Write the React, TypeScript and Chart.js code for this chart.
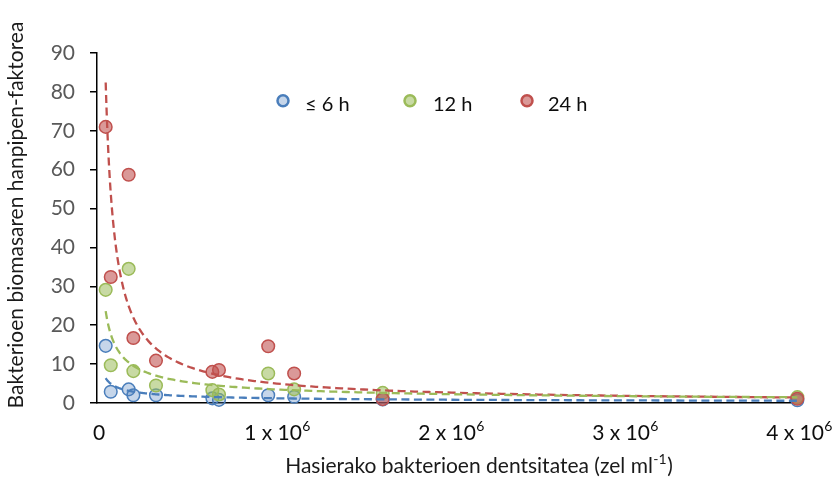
import { useEffect, useRef } from 'react';
import { Chart, registerables } from 'chart.js';

Chart.register(...registerables);

// Initial bacterial density (cells per ml) shared by all three incubation times
const densities = [50000, 79000, 182000, 209000, 339000, 663000, 701000, 984000, 1133000, 1642000, 4025000];
// Minimum bacterial biomass factor for each incubation time
const factor6h = [14.7, 2.9, 3.5, 2.0, 2.0, 1.2, 0.8, 2.0, 1.6, 0.9, 0.7];
const factor12h = [29.1, 9.7, 34.5, 8.2, 4.5, 3.3, 2.2, 7.6, 3.5, 2.6, 1.5];
const factor24h = [71.0, 32.4, 58.7, 16.7, 10.9, 8.0, 8.5, 14.6, 7.6, 1.0, 1.1];

const seriesLabels = ['≤ 6 h', '12 h', '24 h'];
const xTickValues = [0, 1e6, 2e6, 3e6, 4e6];
const xTickBases = ['0', '1 x 10', '2 x 10', '3 x 10', '4 x 10'];
const xTickExponents = ['', '6', '6', '6', '6'];
const xTitleMain = 'Hasierako bakterioen dentsitatea (zel ml';
const xTitleExp = '-1';
const xTitleEnd = ')';
const yTitle = 'Bakterioen biomasaren hanpipen-faktorea';

const FONT = 'Lato, "Open Sans", sans-serif';
const lineColors = ['#4a7ebb', '#9bbb59', '#c0504d'];
const fillColors = ['rgba(79,129,189,0.32)', 'rgba(155,187,89,0.55)', 'rgba(192,80,77,0.58)'];

// Least-squares power fit y = a * x^b on log-log data
function powerFit(xs: number[], ys: number[]) {
  const n = xs.length;
  let sx = 0, sy = 0, sxx = 0, sxy = 0;
  for (let i = 0; i < n; i++) {
    const lx = Math.log(xs[i]);
    const ly = Math.log(ys[i]);
    sx += lx; sy += ly; sxx += lx * lx; sxy += lx * ly;
  }
  const b = (n * sxy - sx * sy) / (n * sxx - sx * sx);
  const a = Math.exp((sy - b * sx) / n);
  return { a, b };
}

function trendPoints(xs: number[], ys: number[]) {
  const { a, b } = powerFit(xs, ys);
  const lo = Math.min(...xs);
  const hi = Math.max(...xs);
  const steps = 200;
  const pts: { x: number; y: number }[] = [];
  for (let i = 0; i <= steps; i++) {
    const x = lo * Math.pow(hi / lo, i / steps);
    pts.push({ x, y: a * Math.pow(x, b) });
  }
  return pts;
}

const toPoints = (ys: number[]) => densities.map((x, i) => ({ x, y: ys[i] }));

// Tick labels with superscripts, axis titles and the in-plot legend
const decorations = {
  id: 'decorations',
  afterDraw(chart: any) {
    const ctx = chart.ctx as CanvasRenderingContext2D;
    const xs = chart.scales.x;
    ctx.save();
    ctx.textBaseline = 'alphabetic';
    ctx.textAlign = 'left';

    // x tick labels
    ctx.fillStyle = '#0d0d0d';
    xTickValues.forEach((v, i) => {
      const px = xs.getPixelForValue(v);
      ctx.font = `21px ${FONT}`;
      const w = ctx.measureText(xTickBases[i]).width;
      ctx.fillText(xTickBases[i], px - w / 2 + 2, 440);
      if (xTickExponents[i]) {
        ctx.font = `14px ${FONT}`;
        ctx.fillText(xTickExponents[i], px + w / 2 + 2.5, 431);
      }
    });

    // x axis title
    ctx.fillStyle = '#1a1a1a';
    ctx.font = `21px ${FONT}`;
    const wMain = ctx.measureText(xTitleMain).width;
    const wEnd = ctx.measureText(xTitleEnd).width;
    ctx.font = `14px ${FONT}`;
    const wExp = ctx.measureText(xTitleExp).width;
    let tx = 479 - (wMain + wExp + wEnd + 1) / 2;
    ctx.font = `21px ${FONT}`;
    ctx.fillText(xTitleMain, tx, 473);
    tx += wMain + 0.5;
    ctx.font = `14px ${FONT}`;
    ctx.fillText(xTitleExp, tx, 464);
    tx += wExp + 0.5;
    ctx.font = `21px ${FONT}`;
    ctx.fillText(xTitleEnd, tx, 473);

    // y axis title
    ctx.save();
    ctx.translate(23, 215);
    ctx.rotate(-Math.PI / 2);
    ctx.textAlign = 'center';
    ctx.font = `21px ${FONT}`;
    ctx.fillText(yTitle, 0, 0);
    ctx.restore();

    // legend
    const markerX = [283, 410, 527];
    const labelX = [305, 433, 548];
    seriesLabels.forEach((label, i) => {
      ctx.beginPath();
      ctx.arc(markerX[i], 100.7, 5.5, 0, Math.PI * 2);
      ctx.fillStyle = '#fff';
      ctx.fill();
      ctx.fillStyle = fillColors[i];
      ctx.fill();
      ctx.lineWidth = 2.5;
      ctx.strokeStyle = lineColors[i];
      ctx.stroke();
      ctx.fillStyle = '#0d0d0d';
      ctx.font = `20px ${FONT}`;
      ctx.fillText(label, labelX[i], 111);
    });
    ctx.restore();
  },
};

export default function App() {
  const canvasRef = useRef<HTMLCanvasElement | null>(null);

  useEffect(() => {
    if (!canvasRef.current) return;
    const series = [factor6h, factor12h, factor24h];
    const scatterSets = series.map((ys, i) => ({
      type: 'scatter' as const,
      label: seriesLabels[i],
      data: toPoints(ys),
      pointRadius: 6.3,
      pointHoverRadius: 6.3,
      pointBorderWidth: 1.5,
      pointBackgroundColor: fillColors[i],
      pointBorderColor: lineColors[i],
      showLine: false,
      clip: false as any,
      order: 3 - i,
    }));
    const trendSets = series.map((ys, i) => ({
      type: 'scatter' as const,
      label: seriesLabels[i] + ' trend',
      data: trendPoints(densities, ys),
      showLine: true,
      pointRadius: 0,
      borderColor: lineColors[i],
      borderWidth: 2.3,
      borderDash: [8, 4.5],
      fill: false,
      clip: false as any,
      order: 0,
    }));

    const chart = new Chart(canvasRef.current, {
      type: 'scatter',
      data: { datasets: [...scatterSets, ...trendSets] as any },
      options: {
        animation: false,
        responsive: false,
        devicePixelRatio: 1,
        layout: { padding: { left: 0, top: 53, right: 39, bottom: 0 } },
        plugins: { legend: { display: false }, tooltip: { enabled: false } },
        scales: {
          x: {
            type: 'linear',
            min: 0,
            max: 4e6,
            ticks: { display: false },
            grid: { display: false },
            border: { display: true, color: '#000', width: 1.5 },
            afterFit: (s: any) => { s.height = 81; },
          },
          y: {
            min: 0,
            max: 90,
            ticks: {
              stepSize: 10,
              padding: 15,
              color: '#595959',
              font: { family: FONT, size: 21 },
            },
            grid: {
              drawOnChartArea: false,
              drawTicks: true,
              tickLength: 7,
              color: '#000',
              lineWidth: 1.5,
            },
            border: { display: true, color: '#000', width: 1.5 },
            afterFit: (s: any) => { s.width = 97; },
          },
        },
      },
      plugins: [decorations],
    });
    return () => chart.destroy();
  }, []);

  return (
    <div style={{ position: 'absolute', left: 0, top: 0, width: 832, height: 484, background: '#fff' }}>
      <canvas ref={canvasRef} width={832} height={484} />
    </div>
  );
}
